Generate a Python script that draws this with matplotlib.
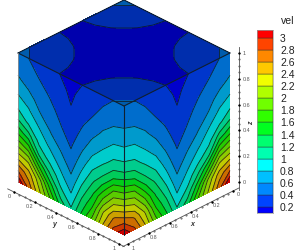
import numpy as np
import matplotlib
matplotlib.use('Agg')
import matplotlib.pyplot as plt
from matplotlib.colors import to_rgb

plt.rcParams['font.family'] = ['Liberation Sans', 'DejaVu Sans']

####################################################
# Values

levels = [0.2, 0.4, 0.6, 0.8, 1.0, 1.2, 1.4, 1.6, 1.8, 2.0, 2.2, 2.4, 2.6, 2.8, 3.0]
level_labels = ['0.2', '0.4', '0.6', '0.8', '1', '1.2', '1.4', '1.6', '1.8', '2', '2.2', '2.4', '2.6', '2.8', '3']
band_colors = ['#0000ff', '#0044ff', '#0088ff', '#00c0ff', '#00ffff', '#00ffb0', '#00ff70', '#00ff20',
               '#30ff00', '#70ff00', '#b0ff00', '#f0ff00', '#ffc800', '#ff8800', '#ff4400', '#ff0000']

axis_ticks = [0, 0.2, 0.4, 0.6, 0.8, 1]
axis_tick_labels = ['0', '0.2', '0.4', '0.6', '0.8', '1']

grid_s = np.linspace(0, 1, 11)
grid_z = np.linspace(0, 1, 11)
grid_a = np.linspace(0, 1, 11)

# side face, one row per s from outer corner (0) to the middle edge (1), columns are z from 0 to 1
vel_side = np.array([
    [3.20, 2.75, 2.30, 1.90, 1.50, 1.15, 0.93, 0.77, 0.63, 0.52, 0.45],
    [2.72, 2.50, 2.16, 1.71, 1.28, 0.96, 0.82, 0.67, 0.54, 0.47, 0.40],
    [2.25, 2.07, 1.60, 1.14, 0.925, 0.80, 0.63, 0.54, 0.46, 0.385, 0.33],
    [1.80, 1.50, 1.16, 0.92, 0.77, 0.62, 0.525, 0.45, 0.38, 0.30, 0.25],
    [1.30, 1.05, 0.88, 0.74, 0.61, 0.49, 0.41, 0.35, 0.29, 0.24, 0.195],
    [1.02, 0.83, 0.68, 0.56, 0.45, 0.37, 0.30, 0.25, 0.20, 0.17, 0.15],
    [1.43, 1.24, 1.04, 0.855, 0.70, 0.57, 0.455, 0.37, 0.30, 0.245, 0.195],
    [1.85, 1.58, 1.36, 1.15, 0.96, 0.785, 0.63, 0.50, 0.39, 0.31, 0.25],
    [2.40, 2.17, 1.80, 1.43, 1.13, 0.93, 0.77, 0.63, 0.52, 0.41, 0.33],
    [2.85, 2.57, 2.18, 1.80, 1.38, 1.08, 0.90, 0.74, 0.60, 0.49, 0.40],
    [3.20, 2.75, 2.30, 1.90, 1.50, 1.15, 0.93, 0.77, 0.63, 0.52, 0.45],
])

# top face, one quarter, a and b from 0 to 0.5
top_quarter = np.array([
    [0.45, 0.40, 0.33, 0.25, 0.195, 0.15],
    [0.40, 0.385, 0.31, 0.24, 0.185, 0.145],
    [0.33, 0.31, 0.27, 0.21, 0.17, 0.135],
    [0.25, 0.24, 0.21, 0.175, 0.15, 0.125],
    [0.195, 0.185, 0.17, 0.15, 0.13, 0.115],
    [0.15, 0.145, 0.135, 0.125, 0.115, 0.11],
])

vel_top = np.vstack([top_quarter, top_quarter[-2::-1]])
vel_top = np.hstack([vel_top, vel_top[:, -2::-1]])

####################################################
# Cube projection, in figure pixels

ex, ey = 106, 53       # one unit along a bottom edge
zh = 129               # one unit of z


def left_face(s, z):
    return 18 + ex * s, 182 + ey * s - zh * z


def right_face(s, z):
    return 230 - ex * s, 182 + ey * s - zh * z


def top_face(a, b):
    return 18 + ex * a + ex * b, 53 + ey * a - ey * b


def shade(factor):
    return [tuple(c * factor for c in to_rgb(col)) for col in band_colors]


fig = plt.figure(figsize=(3, 2.5), dpi=100)
ax = fig.add_axes([0, 0, 1, 1])
ax.set_xlim(0, 300)
ax.set_ylim(250, 0)
ax.axis('off')

S, Z = np.meshgrid(grid_s, grid_z, indexing='ij')
A, B = np.meshgrid(grid_a, grid_a, indexing='ij')

faces = [(left_face(S, Z), vel_side, 0.8),
         (right_face(S, Z), vel_side, 0.8),
         (top_face(A, B), vel_top, 0.68)]
for (X, Y), vals, fac in faces:
    ax.contourf(X, Y, vals, levels=levels, colors=shade(fac), extend='both')
    ax.contour(X, Y, vals, levels=levels, colors='#101818', linewidths=0.6, alpha=0.85)

# cube edges
edge_pts = [((18, 53), (124, 0)), ((124, 0), (230, 53)), ((18, 53), (124, 106)),
            ((230, 53), (124, 106)), ((124, 106), (124, 235))]
for p, q in edge_pts:
    ax.plot([p[0], q[0]], [p[1], q[1]], color='#102030', lw=0.8, solid_capstyle='round')
ax.plot([18, 18], [53, 182], color='#909090', lw=0.6)

####################################################
# 3D axes drawn by hand


def draw_axis(fx, fy, tick_vals, labels, dx, dy, ha='center'):
    t = np.array([-0.06, 1.05])
    ax.plot(fx(t), fy(t), color='#505050', lw=0.6)
    minor = np.arange(0, 1.001, 0.05)
    ax.plot(fx(minor), fy(minor), ls='', marker='.', ms=0.9, color='#505050')
    ax.plot(fx(np.array(tick_vals)), fy(np.array(tick_vals)), ls='', marker='o', ms=1.6, color='black', mew=0)
    for v, lab in zip(tick_vals, labels):
        ax.text(fx(v) + dx, fy(v) + dy, lab, fontsize=3.9, color='#555555', ha=ha, va='center')


# y runs to the bottom corner, x the other way
draw_axis(lambda t: 14 + 105 * t, lambda t: 192 + 52 * t, axis_ticks, axis_tick_labels, -5, 4.5)
draw_axis(lambda t: 233 - 105 * t, lambda t: 191 + 53 * t, axis_ticks, axis_tick_labels, 5, 4)
draw_axis(lambda t: 239 + 0 * t, lambda t: 182 - 129 * t, axis_ticks, axis_tick_labels, 4, 0.5, ha='left')

ax.text(54, 225, 'y', fontsize=5, style='italic', weight='bold', color='#333333', ha='center', va='center')
ax.text(192, 225, 'x', fontsize=5, style='italic', weight='bold', color='#333333', ha='center', va='center')
ax.text(252, 123, 'z', fontsize=5, style='italic', weight='bold', color='#333333', rotation=90, ha='center', va='center')

####################################################
# Legend

cax = fig.add_axes([257 / 300, 1 - 213 / 250, 16 / 300, 183 / 250])
step = levels[1] - levels[0]
low = levels[0] - 6 / 12.2 * step
high = levels[-1] + 8 / 12.2 * step
edges = [low] + levels + [high]
for i, col in enumerate(band_colors):
    cax.bar(0, edges[i + 1] - edges[i], width=1, bottom=edges[i], color=col, edgecolor='#303030', linewidth=0.3)
cax.set_xlim(-0.5, 0.5)
cax.set_ylim(low, high)
cax.set_xticks([])
cax.yaxis.tick_right()
cax.set_yticks(levels)
cax.set_yticklabels(level_labels, fontsize=7.5, color='#222222')
cax.tick_params(axis='y', length=0, pad=5)
for sp in cax.spines.values():
    sp.set_color('#a0a0a0')
    sp.set_linewidth(0.5)

ax.text(281, 21, 'vel', fontsize=7.5, color='#222222', ha='left', va='center')

fig.savefig('out.png', dpi=100)
